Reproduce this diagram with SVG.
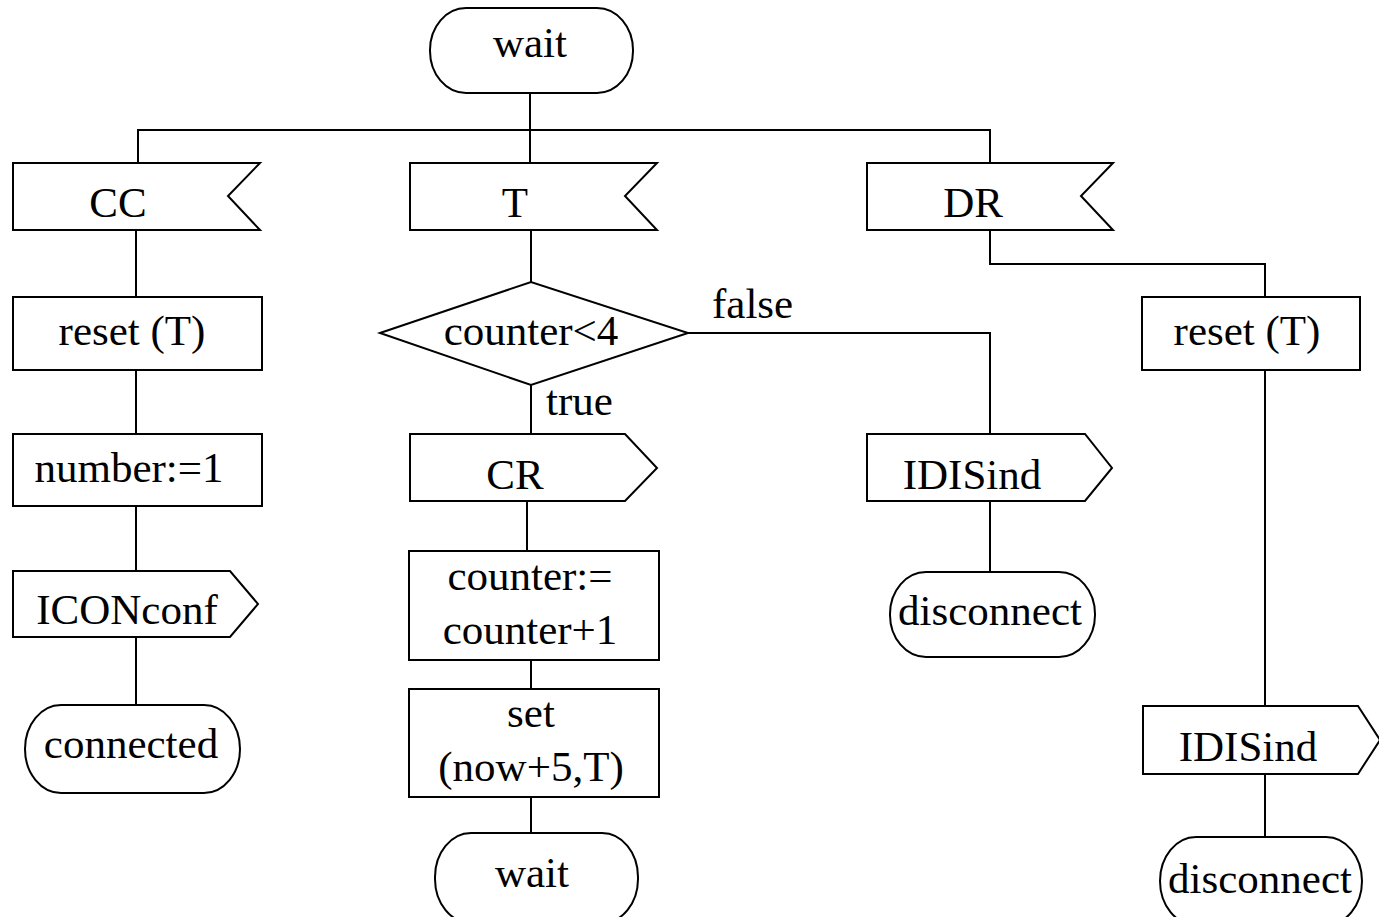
<svg xmlns="http://www.w3.org/2000/svg" width="1379" height="917" viewBox="0 0 1379 917">
<style>
.s{fill:#fff;stroke:#000;stroke-width:2}
.c{fill:none;stroke:#000;stroke-width:2}
text{font-family:"Liberation Serif","Times New Roman",serif;font-size:43px;fill:#000;text-anchor:middle}
.l{text-anchor:start}
</style>
<rect width="1379" height="917" fill="#fff"/>
<g id="connectors">
<path class="c" d="M530 93V130M138 162V130H990V162M530 130V162"/>
<path class="c" d="M136 230V297M136 370V434M136 506V571M136 637V705"/>
<path class="c" d="M531 230V282M531 385V434M527 501V551M531 660V689M531 797V833"/>
<path class="c" d="M688 333H990V434M990 501V572"/>
<path class="c" d="M990 230V264H1265V297M1265 370V706M1265 774V837"/>
</g>
<g id="wait_top"><rect class="s" x="430" y="8" width="203" height="85" rx="36" ry="42"/><text x="530" y="57">wait</text></g>
<g id="in_CC"><path class="s" d="M13 163H260L228 196L260 230H13Z"/><text x="118" y="217">CC</text></g>
<g id="in_T"><path class="s" d="M410 163H657L625 196L657 230H410Z"/><text x="515" y="217">T</text></g>
<g id="in_DR"><path class="s" d="M867 163H1113L1081 196L1113 230H867Z"/><text x="973" y="217">DR</text></g>
<g id="reset1"><rect class="s" x="13" y="297" width="249" height="73"/><text x="132" y="345">reset (T)</text></g>
<g id="number"><rect class="s" x="13" y="434" width="249" height="72"/><text x="129" y="482">number:=1</text></g>
<g id="out_ICONconf"><path class="s" d="M13 571H230L258 604L230 637H13Z"/><text x="127" y="624">ICONconf</text></g>
<g id="connected"><rect class="s" x="25" y="705" width="215" height="88" rx="36" ry="44"/><text x="131" y="758">connected</text></g>
<g id="decision"><path class="s" d="M380 333L531 282L688 333L531 385Z"/><text x="531" y="345">counter&lt;4</text></g>
<text class="l" x="712" y="318">false</text>
<text class="l" x="546" y="415">true</text>
<g id="out_CR"><path class="s" d="M410 434H625L657 468L625 501H410Z"/><text x="515" y="489">CR</text></g>
<g id="counter_inc"><rect class="s" x="409" y="551" width="250" height="109"/><text x="530" y="590">counter:=</text><text x="530" y="644">counter+1</text></g>
<g id="set"><rect class="s" x="409" y="689" width="250" height="108"/><text x="531" y="727">set</text><text x="531" y="781">(now+5,T)</text></g>
<g id="wait_bottom"><rect class="s" x="435" y="833" width="203" height="90" rx="36" ry="44"/><text x="532" y="887">wait</text></g>
<g id="out_IDISind1"><path class="s" d="M867 434H1085L1112 468L1085 501H867Z"/><text x="972" y="489">IDISind</text></g>
<g id="disconnect1"><rect class="s" x="890" y="572" width="205" height="85" rx="36" ry="42"/><text x="990" y="625">disconnect</text></g>
<g id="reset2"><rect class="s" x="1142" y="297" width="218" height="73"/><text x="1247" y="345">reset (T)</text></g>
<g id="out_IDISind2"><path class="s" d="M1143 706H1358L1380 740L1358 774H1143Z"/><text x="1248" y="761">IDISind</text></g>
<g id="disconnect2"><rect class="s" x="1160" y="837" width="202" height="88" rx="36" ry="44"/><text x="1260" y="893">disconnect</text></g>
</svg>
